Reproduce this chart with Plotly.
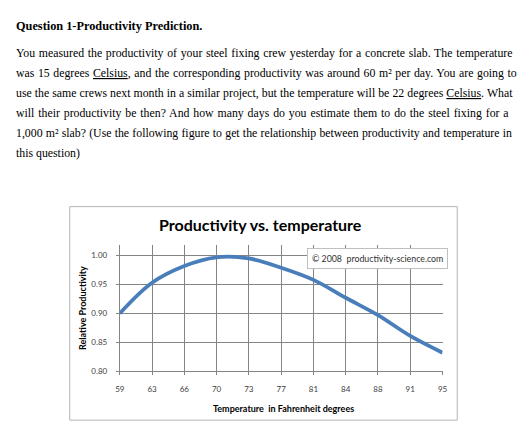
import plotly.graph_objects as go

W, H = 526, 438

# chart data
temps_f = ["59", "63", "66", "70", "73", "77", "81", "84", "88", "91", "95"]
rel_productivity = [0.900, 0.953, 0.982, 0.997, 0.995, 0.979, 0.958, 0.927, 0.897, 0.861, 0.832]
y_ticks = [0.80, 0.85, 0.90, 0.95, 1.00]

heading = "Question 1-Productivity Prediction."
body_lines = [
    "You measured the productivity of your steel fixing crew yesterday for a concrete slab. The temperature",
    "was 15 degrees <u>Celsius</u>, and the corresponding productivity was around 60 m² per day. You are going to",
    "use the same crews next month in a similar project, but the temperature will be 22 degrees <u>Celsius</u>. What",
    "will their productivity be then? And how many days do you estimate them to do the steel fixing for a",
    "1,000 m² slab? (Use the following figure to get the relationship between productivity and temperature in",
    "this question)",
]
# extra space between words so the lines come out justified
word_gap = [0.74, 0.65, 0.11, 0.94, 0.28, 0]
chart_title = "Productivity vs. temperature"
x_title = "Temperature  in Fahrenheit degrees"
y_title = "Relative Productivity"
credit = "© 2008  productivity-science.com"


def px_x(p):
    return p / W


def px_y(p):
    return 1 - p / H


serif = "Liberation Serif"
sans = "Lato"

fig = go.Figure(
    go.Scatter(
        x=list(range(len(temps_f))),
        y=rel_productivity,
        mode="lines",
        line=dict(color="#4a7ebb", width=3.8, shape="spline", smoothing=1.0),
        showlegend=False,
        hoverinfo="skip",
    )
)

fig.update_layout(
    width=W,
    height=H,
    margin=dict(l=0, r=0, t=0, b=0),
    paper_bgcolor="white",
    plot_bgcolor="white",
    xaxis=dict(
        domain=[px_x(117), px_x(446)],
        range=[0, len(temps_f) - 1],
        tickmode="array",
        tickvals=list(range(len(temps_f))),
        ticktext=temps_f,
        showgrid=True,
        gridcolor="#858585",
        gridwidth=1,
        zeroline=False,
        showline=True,
        linecolor="#858585",
        ticks="outside",
        ticklen=3,
        tickcolor="#858585",
        ticklabelstandoff=7,
        tickfont=dict(family=sans, size=8, color="#404040"),
    ),
    yaxis=dict(
        domain=[px_y(375.5), px_y(248)],
        range=[0.80, 1.018],
        tickmode="array",
        tickvals=y_ticks,
        tickformat=".2f",
        showgrid=True,
        gridcolor="#858585",
        gridwidth=1,
        zeroline=False,
        showline=True,
        linecolor="#858585",
        ticks="outside",
        ticklen=3,
        tickcolor="#858585",
        ticklabelstandoff=7,
        tickfont=dict(family=sans, size=8, color="#404040"),
    ),
)

# outer frame of the chart picture
fig.add_shape(
    type="rect", xref="paper", yref="paper",
    x0=px_x(66), x1=px_x(461), y0=px_y(425), y1=px_y(209),
    line=dict(color="#b4b4b4", width=1), layer="below",
)

ann = []
ann.append(dict(text="<b>" + heading + "</b>", x=px_x(9), y=px_y(26), xanchor="left", yanchor="middle",
                font=dict(family=serif, size=12.3, color="black")))
for i, line in enumerate(body_lines):
    txt = '<span style="word-spacing:%.2fpx">%s</span>' % (word_gap[i], line)
    ann.append(dict(text=txt, x=px_x(9), y=px_y(54 + 20.2 * i), xanchor="left", yanchor="middle",
                    font=dict(family=serif, size=11.8, color="black")))
ann.append(dict(text="<b>" + chart_title + "</b>", x=px_x(260.5), y=px_y(227), xanchor="center", yanchor="middle",
                font=dict(family=sans, size=16, color="black")))
ann.append(dict(text="<b>" + x_title + "</b>", x=px_x(283.5), y=px_y(413), xanchor="center", yanchor="middle",
                font=dict(family=sans, size=9, color="black")))
ann.append(dict(text="<b>" + y_title + "</b>", x=px_x(79), y=px_y(311), xanchor="center", yanchor="middle",
                textangle=-90, font=dict(family=sans, size=9, color="black")))
ann.append(dict(text=credit, x=px_x(380), y=px_y(261), xanchor="center", yanchor="middle",
                bgcolor="white", bordercolor="#c0c0c0", borderwidth=1, borderpad=4,
                font=dict(family=sans, size=8.8, color="#303030")))
for a in ann:
    a.update(xref="paper", yref="paper", showarrow=False)
fig.update_layout(annotations=ann)

fig.write_html("out.html", config={"displayModeBar": False},
               post_script="document.body.style.margin='0';")
